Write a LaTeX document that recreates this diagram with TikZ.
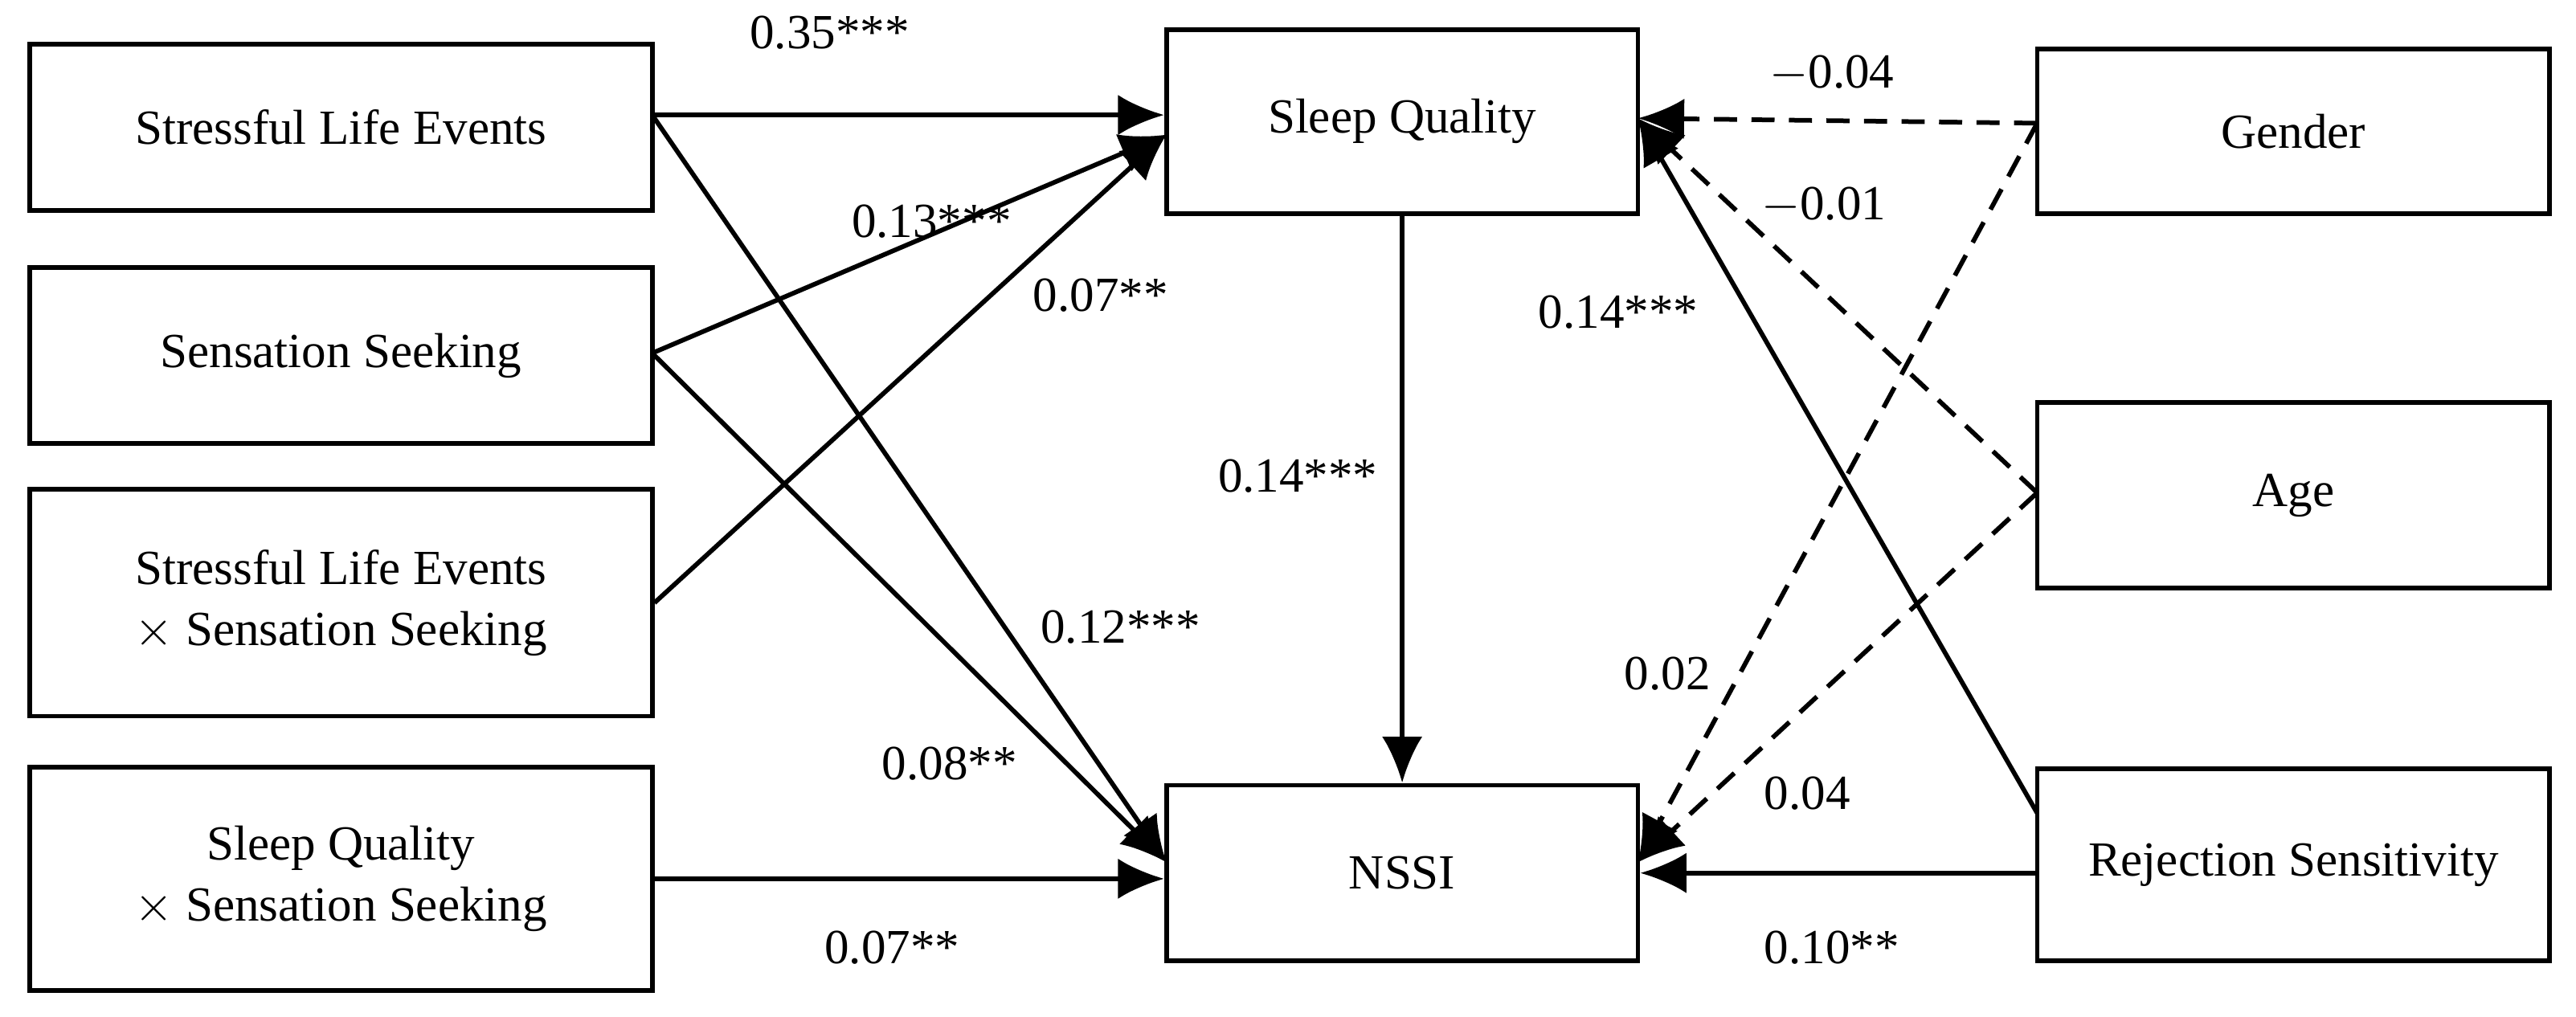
\documentclass[tikz,border=0pt]{standalone}
\usepackage{fontspec}
\setmainfont{Liberation Serif}
\usetikzlibrary{arrows.meta}
\begin{document}
\begin{tikzpicture}[x=0.02cm,y=-0.02cm,
    box/.style={draw, line width=1.6pt, align=center, inner sep=0pt,
      font=\fontsize{17}{21}\selectfont},
    lbl/.style={font=\fontsize{17}{21}\selectfont, inner sep=1pt},
    path/.style={line width=1.6pt, -{Latex[length=16pt,width=14pt]}},
    ctrl/.style={path, dashed, dash pattern=on 8pt off 5pt}]
    \useasboundingbox (0,0) rectangle (1568,619);
    % Predictors
    \node[box, minimum width=7.58cm, minimum height=2.02cm] (sle) at (207.5,77.5) {Stressful Life Events};
    \node[box, minimum width=7.58cm, minimum height=2.14cm] (ss) at (207.5,216.5) {Sensation Seeking};
    \node[box, minimum width=7.58cm, minimum height=2.76cm] (slexss) at (207.5,367) {Stressful Life Events\\$\times$ Sensation Seeking};
    \node[box, minimum width=7.58cm, minimum height=2.72cm] (sqxss) at (207.5,535) {Sleep Quality\\$\times$ Sensation Seeking};
    % Mediator and outcome
    \node[box, minimum width=5.74cm, minimum height=2.24cm] (sq) at (853.5,74) {Sleep Quality};
    \node[box, minimum width=5.74cm, minimum height=2.14cm] (nssi) at (853.5,531.5) {NSSI};
    % Covariates
    \node[box, minimum width=6.24cm, minimum height=2.0cm] (gender) at (1396,80) {Gender};
    \node[box, minimum width=6.24cm, minimum height=2.26cm] (age) at (1396,301.5) {Age};
    \node[box, minimum width=6.24cm, minimum height=2.34cm] (rs) at (1396,526.5) {Rejection Sensitivity};
    % Arrow end points
    \coordinate (sqin) at (710,82);
    \coordinate (nssiin) at (710,525);
    \coordinate (sqr) at (997,72);
    \coordinate (nssir) at (997,525);
    \coordinate (sleout) at (397,70);
    \coordinate (ssout) at (397,215);
    \coordinate (gout) at (1240,75);
    \coordinate (aout) at (1240,300);
    \coordinate (rsout) at (1240,495);
    % Paths to sleep quality
    \draw[path] (sleout) -- (sq.west |- sleout);
    \draw[path] (ssout) -- (sqin);
    \draw[path] (slexss.east) -- (sqin);
    % Paths to NSSI
    \draw[path] (sleout) -- (nssiin);
    \draw[path] (ssout) -- (nssiin);
    \draw[path] (sqxss.east) -- (nssi.west |- sqxss.east);
    \draw[path] (sq.south) -- (nssi.north);
    % Covariates
    \draw[ctrl] (gout) -- (sqr);
    \draw[ctrl] (aout) -- (sqr);
    \draw[path] (rsout) -- (sqr);
    \draw[ctrl] (gout) -- (nssir);
    \draw[ctrl] (aout) -- (nssir);
    \draw[path] (rs.west |- nssi.east) -- (nssi.east);
    % Coefficients
    \node[lbl] (c1) at (505,20) {0.35***};
    \node[lbl] (c2) at (567,135) {0.13***};
    \node[lbl] (c3) at (670,180) {0.07**};
    \node[lbl] (c4) at (682,382) {0.12***};
    \node[lbl] (c5) at (578,465) {0.08**};
    \node[lbl] (c6) at (543,577) {0.07**};
    \node[lbl] (c7) at (790,290) {0.14***};
    \node[lbl] (c8) at (1115,45) {$-$0.04};
    \node[lbl] (c9) at (1110,125) {$-$0.01};
    \node[lbl] (c10) at (985,190) {0.14***};
    \node[lbl] (c11) at (1015,410) {0.02};
    \node[lbl] (c12) at (1100,483) {0.04};
    \node[lbl] (c13) at (1115,577) {0.10**};
\end{tikzpicture}
\end{document}
